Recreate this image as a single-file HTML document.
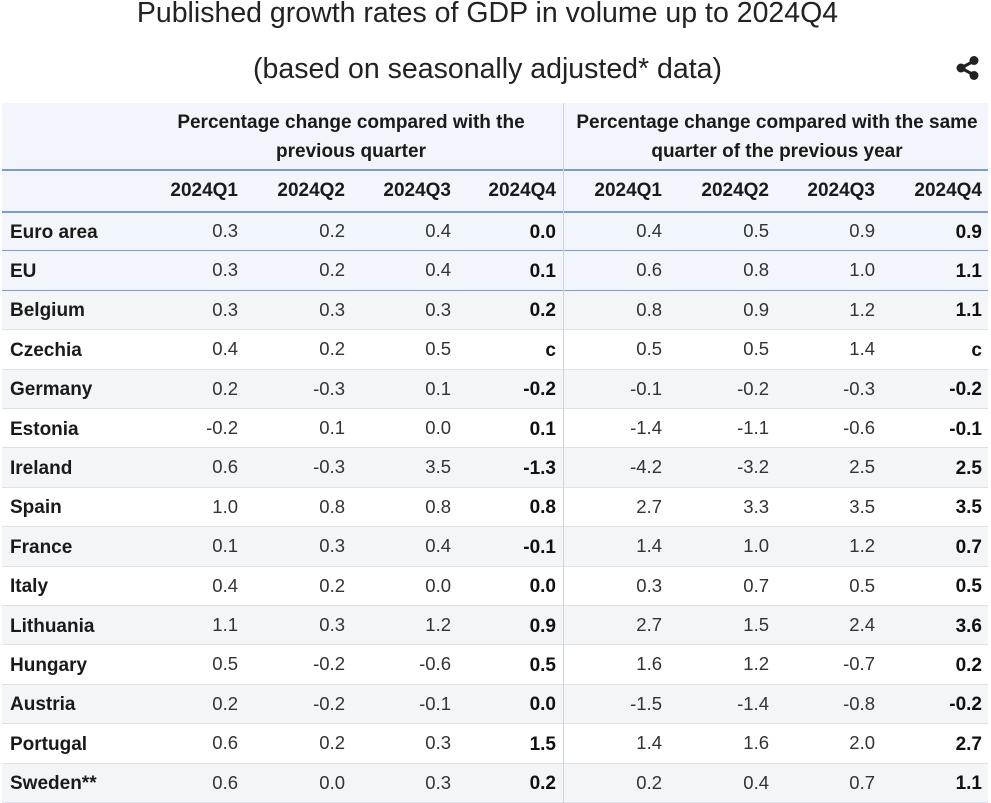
<!DOCTYPE html>
<html><head><meta charset="utf-8">
<style>
body{margin:0;width:991px;height:795px;overflow:hidden;background:#fff;font-family:"Liberation Sans",Arial,sans-serif;color:#222;position:relative}
.t{position:absolute;left:0;width:975px;text-align:center;font-size:28.5px;color:#222}
.c{position:absolute;font-size:18.5px;line-height:20px;white-space:nowrap}
.h{font-weight:bold;font-size:19px;color:#1a1a1a}
</style></head><body>
<div class="t" style="top:-3px">Published growth rates of GDP in volume up to 2024Q4</div>
<div class="t" style="top:53px">(based on seasonally adjusted* data)</div>
<svg style="position:absolute;left:955px;top:55px" width="26" height="26" viewBox="0 0 26 26"><line x1="6" y1="13" x2="19" y2="6" stroke="#222" stroke-width="3"/><line x1="6" y1="13" x2="19" y2="20" stroke="#222" stroke-width="3"/><circle cx="6" cy="13" r="4.5" fill="#222"/><circle cx="19" cy="5.5" r="4.5" fill="#222"/><circle cx="19" cy="20.5" r="4.5" fill="#222"/></svg>
<div id="tbl"></div>
<script>
const countries=["Euro area","EU","Belgium","Czechia","Germany","Estonia","Ireland","Spain","France","Italy","Lithuania","Hungary","Austria","Portugal","Sweden**"];
const quarters=["2024Q1","2024Q2","2024Q3","2024Q4"];
const qoq=[["0.3","0.2","0.4","0.0"],["0.3","0.2","0.4","0.1"],["0.3","0.3","0.3","0.2"],["0.4","0.2","0.5","c"],["0.2","-0.3","0.1","-0.2"],["-0.2","0.1","0.0","0.1"],["0.6","-0.3","3.5","-1.3"],["1.0","0.8","0.8","0.8"],["0.1","0.3","0.4","-0.1"],["0.4","0.2","0.0","0.0"],["1.1","0.3","1.2","0.9"],["0.5","-0.2","-0.6","0.5"],["0.2","-0.2","-0.1","0.0"],["0.6","0.2","0.3","1.5"],["0.6","0.0","0.3","0.2"]];
const yoy=[["0.4","0.5","0.9","0.9"],["0.6","0.8","1.0","1.1"],["0.8","0.9","1.2","1.1"],["0.5","0.5","1.4","c"],["-0.1","-0.2","-0.3","-0.2"],["-1.4","-1.1","-0.6","-0.1"],["-4.2","-3.2","2.5","2.5"],["2.7","3.3","3.5","3.5"],["1.4","1.0","1.2","0.7"],["0.3","0.7","0.5","0.5"],["2.7","1.5","2.4","3.6"],["1.6","1.2","-0.7","0.2"],["-1.5","-1.4","-0.8","-0.2"],["1.4","1.6","2.0","2.7"],["0.2","0.4","0.7","1.1"]];
const T=document.getElementById('tbl');
const colR=[238,345,451,556,662,769,875,982];
const rowTop=212,rowH=39.4;
function box(x,y,w,h,bg){const d=document.createElement('div');d.style.cssText=`position:absolute;left:${x}px;top:${y}px;width:${w}px;height:${h}px;background:${bg}`;T.appendChild(d);return d;}
let hb=box(2,103,986,109,'#f2f5fb');


countries.forEach((c,i)=>{
  const y=rowTop+i*rowH;
  const bg=i<2?'#f2f5fb':(i%2==0?'#f4f5f6':'#fff');
  const r=box(2,y,986,rowH,bg);
  
  
  box(2,y+rowH-1,986,1,i<2?'#7c9bd3':'#dde1e8');
});
box(2,169,986,2,'#7c9bd3');box(2,211,986,2,'#7c9bd3');
box(563,103,1,700,'#cfd4dc');
function txt(s,x,y,cls,align,w){const d=document.createElement('div');d.className='c '+(cls||'');d.textContent=s;
 if(align=='r'){d.style.left=(x-w)+'px';d.style.width=w+'px';d.style.textAlign='right';}
 else if(align=='c'){d.style.left=(x-w/2)+'px';d.style.width=w+'px';d.style.textAlign='center';}
 else d.style.left=x+'px';
 d.style.top=y+'px';T.appendChild(d);return d;}
let g1=txt('Percentage change compared with the\nprevious quarter',351,108,'h','c',420);g1.style.whiteSpace='pre';g1.style.lineHeight='29px';


let g2=txt('Percentage change compared with the same\nquarter of the previous year',777,108,'h','c',440);g2.style.whiteSpace='pre';g2.style.lineHeight='29px';


colR.forEach((x,j)=>{const e=txt(quarters[j%4],x,181,'h','r',100);
 
 });
countries.forEach((c,i)=>{
  const y=rowTop+i*rowH+9;
  const n=txt(c,10,y+1.5,'h');
  
  
  const vals=qoq[i].concat(yoy[i]);
  vals.forEach((v,j)=>{const b=j%4==3;const e=txt(v,colR[j],b?y+1.5:y,b?'h':'','r',100);
    e.style.color=b?'#111':'#333';
    
    });
});
</script>
</body></html>
